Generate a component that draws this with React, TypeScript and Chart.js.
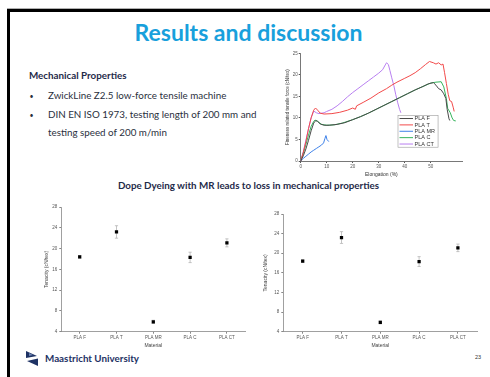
import React, { useEffect, useRef } from "react";
import { Chart, registerables } from "chart.js";
Chart.register(...registerables);

// ---------- Stress-strain curves (Elongation %, force cN/tex) ----------
const curveLabels = ["PLA F", "PLA T", "PLA MR", "PLA C", "PLA CT"];
const curveColors = ["#4a4a4a", "#f24a4a", "#3d80e8", "#35b45c", "#b87ff0"];

const plaF: [number, number][] = [
  [0, 0], [1, 1.2], [2, 2.8], [3, 4.8], [4, 7], [5, 8.8], [5.8, 9.4], [6.5, 9.2], [7.5, 8.6],
  [9, 8.3], [11, 8.3], [14, 8.5], [17, 8.9], [20, 9.6], [23, 10.3], [26, 11.1], [29, 12],
  [32, 12.9], [35, 13.8], [38, 14.7], [41, 15.6], [44, 16.5], [47, 17.3], [49, 17.9],
  [51, 18.2], [52, 17.6], [53, 16.8], [54, 16.5], [55, 15.6], [55.8, 14.5], [56.3, 12],
  [57, 9.8], [57.3, 9.4],
];
const plaT: [number, number][] = [
  [0, 0], [1, 2], [2, 4.5], [3, 7.5], [4, 10], [5, 11.8], [5.7, 12.3], [6.5, 11.8], [7.5, 11.1],
  [9, 10.9], [12, 11], [15, 11.3], [18, 11.8], [20, 12.3], [21, 12], [21.5, 12.8], [24, 13.6],
  [27, 14.6], [30, 15.8], [33, 16.8], [35, 17.6], [37, 18.3], [40, 19.2], [42, 19.8],
  [44, 20.5], [46, 21.4], [48, 22.4], [49.5, 23.1], [51, 22.8], [52, 22.5], [53, 22.8],
  [54, 22.3], [54.7, 22.5], [55.3, 20.5], [56, 18], [56.7, 15.5], [57.3, 14], [58, 13.8],
  [58.6, 12.5], [59, 11.5],
];
const plaMR: [number, number][] = [
  [0, 0], [1, 0.6], [2, 1.1], [3, 1.6], [4, 2.1], [5, 2.5], [6, 2.9], [7, 3.3], [8, 3.7],
  [8.8, 4.2], [9.3, 5.2], [9.7, 5.9], [10.1, 5], [10.8, 4.5],
];
const plaC: [number, number][] = [
  [0, 0], [1, 1.8], [2, 3.8], [3, 6], [4, 8], [5, 9.2], [5.5, 9.5], [6.5, 9.2], [8, 8.5],
  [10, 8.3], [13, 8.4], [16, 8.8], [20, 9.6], [23, 10.3], [26, 11.1], [29, 12], [32, 12.9],
  [35, 13.8], [38, 14.7], [41, 15.6], [44, 16.5], [47, 17.3], [50, 18.1], [52, 18.3],
  [54, 18.4], [55, 17.2], [56, 14.5], [56.5, 12.2], [57.5, 11.2], [58.2, 10], [58.8, 9.4],
  [59.6, 9.3],
];
const plaCT: [number, number][] = [
  [0, 0], [1, 2.2], [2, 4.8], [3, 7.5], [4, 10], [5, 11.6], [6, 11.2], [7, 11], [9, 11.2],
  [10, 11.5], [12, 12], [14, 12.8], [16, 13.8], [18, 14.9], [20, 15.9], [22, 16.8],
  [24, 17.7], [26, 18.6], [28, 19.5], [30, 20.4], [31.5, 21.2], [32.5, 22.3], [33, 22.8],
  [33.7, 22.4], [34.3, 21], [35, 19.3], [35.8, 17.5], [36.5, 15.5], [37.3, 13.5], [38, 12],
  [38.5, 11.2],
];
const curves = [plaF, plaT, plaMR, plaC, plaCT];

// ---------- Tenacity per material ----------
const materials = ["PLA F", "PLA T", "PLA MR", "PLA C", "PLA CT"];
const tenacity = [18.4, 23.2, 5.9, 18.3, 21.1];
const tenacityErr = [0.25, 1.2, 0.3, 1.0, 0.77];

const tickFont = { family: "Liberation Sans, Arial, sans-serif", size: 4.5 };
const titleFont = { family: "Liberation Sans, Arial, sans-serif", size: 5 };

const boxLegend = {
  id: "boxLegend",
  afterDraw(chart: any) {
    const { ctx } = chart;
    const x = chart.scales.x;
    const y = chart.scales.y;
    const left = x.getPixelForValue(37.4);
    const right = x.getPixelForValue(52.8);
    const top = y.getPixelForValue(10.6);
    const bottom = y.getPixelForValue(3.2);
    ctx.save();
    ctx.fillStyle = "#fff";
    ctx.fillRect(left, top, right - left, bottom - top);
    ctx.strokeStyle = "#9a9a9a";
    ctx.lineWidth = 0.6;
    ctx.strokeRect(left, top, right - left, bottom - top);
    const n = chart.data.datasets.length;
    const rowH = (bottom - top) / n;
    chart.data.datasets.forEach((ds: any, i: number) => {
      const cy = top + rowH * (i + 0.5);
      ctx.strokeStyle = ds.borderColor;
      ctx.lineWidth = 1;
      ctx.beginPath();
      ctx.moveTo(left + 1.5, cy);
      ctx.lineTo(left + 15, cy);
      ctx.stroke();
      ctx.fillStyle = "#333";
      ctx.font = "5.5px Liberation Sans, Arial, sans-serif";
      ctx.textBaseline = "middle";
      ctx.fillText(ds.label, left + 16.5, cy + 0.3);
    });
    ctx.restore();
  },
};

const errorBars = {
  id: "errorBars",
  beforeDatasetsDraw(chart: any) {
    const { ctx } = chart;
    const y = chart.scales.y;
    chart.data.datasets.forEach((ds: any, di: number) => {
      const meta = chart.getDatasetMeta(di);
      meta.data.forEach((el: any, i: number) => {
        const v = ds.data[i];
        const e = ds.errors[i];
        const yt = y.getPixelForValue(v + e);
        const yb = y.getPixelForValue(v - e);
        ctx.save();
        ctx.strokeStyle = "#b5b5b5";
        ctx.lineWidth = 0.8;
        ctx.beginPath();
        ctx.moveTo(el.x, yt);
        ctx.lineTo(el.x, yb);
        ctx.moveTo(el.x - 1.6, yt);
        ctx.lineTo(el.x + 1.6, yt);
        ctx.moveTo(el.x - 1.6, yb);
        ctx.lineTo(el.x + 1.6, yb);
        ctx.stroke();
        ctx.restore();
      });
    });
  },
};

function makeCurveChart(canvas: HTMLCanvasElement) {
  return new Chart(canvas, {
    type: "scatter",
    data: {
      datasets: curves.map((c, i) => ({
        label: curveLabels[i],
        data: c.map(([x, y]) => ({ x, y })),
        borderColor: curveColors[i],
        backgroundColor: curveColors[i],
        showLine: true,
        borderWidth: 1,
        pointRadius: 0,
        tension: 0,
      })),
    },
    options: {
      animation: false,
      responsive: false,
      events: [],
      layout: { padding: { left: 4, top: 5.3, right: 9, bottom: 0.7 }, autoPadding: false },
      plugins: { legend: { display: false }, tooltip: { enabled: false } },
      scales: {
        x: {
          type: "linear",
          min: 0,
          max: 62,
          afterBuildTicks: (s: any) => {
            s.ticks = s.ticks.filter((t: any) => t.value % 10 === 0);
          },
          ticks: { stepSize: 10, font: tickFont, color: "#555", padding: 1, maxRotation: 0 },
          grid: { drawOnChartArea: false, tickLength: 2, color: "#555" },
          border: { color: "#555", width: 0.8 },
          title: { display: true, text: "Elongation (%)", font: titleFont, color: "#333", padding: 0 },
          afterFit: (s: any) => {
            s.height = 16.3;
          },
        },
        y: {
          min: 0,
          max: 25,
          ticks: { stepSize: 5, font: tickFont, color: "#555", padding: 1 },
          grid: { drawOnChartArea: false, tickLength: 2, color: "#555" },
          border: { color: "#555", width: 0.8 },
          title: {
            display: true,
            text: "Fineness related tensile force (cN/tex)",
            font: { family: "Liberation Sans, Arial, sans-serif", size: 4.5 },
            color: "#333",
            padding: 0,
          },
          afterFit: (s: any) => {
            s.width = 15.7;
          },
        },
      },
    },
    plugins: [boxLegend],
  } as any);
}

function makeTenacityChart(canvas: HTMLCanvasElement, padLeft: number, padTop: number, padRight: number, yWidth: number) {
  return new Chart(canvas, {
    type: "line",
    data: {
      labels: materials,
      datasets: [
        {
          label: "Tenacity",
          data: tenacity,
          errors: tenacityErr,
          showLine: false,
          pointStyle: "rect",
          pointRadius: 2.3,
          pointBorderWidth: 0,
          pointBackgroundColor: "#000",
          borderColor: "#000",
        } as any,
      ],
    },
    options: {
      animation: false,
      responsive: false,
      events: [],
      layout: { padding: { left: padLeft, top: padTop, right: padRight, bottom: 0 }, autoPadding: false },
      plugins: { legend: { display: false }, tooltip: { enabled: false } },
      scales: {
        x: {
          type: "category",
          offset: true,
          ticks: { font: tickFont, color: "#555", padding: 1, maxRotation: 0, autoSkip: false },
          grid: { drawOnChartArea: false, offset: false, tickLength: 2, color: "#888" },
          border: { color: "#888", width: 0.8 },
          title: { display: true, text: "Material", font: titleFont, color: "#444", padding: 0 },
          afterFit: (s: any) => {
            s.height = 17.3;
          },
        },
        y: {
          min: 4,
          max: 28,
          ticks: { stepSize: 4, font: tickFont, color: "#555", padding: 2 },
          grid: { drawOnChartArea: false, tickLength: 2, color: "#888" },
          border: { color: "#888", width: 0.8 },
          title: { display: true, text: "Tenacity (cN/tex)", font: titleFont, color: "#444", padding: 0 },
          afterFit: (s: any) => {
            s.width = yWidth;
          },
        },
      },
    },
    plugins: [errorBars],
  } as any);
}

const abs = (l: number, t: number, extra: React.CSSProperties = {}): React.CSSProperties => ({
  position: "absolute",
  left: l,
  top: t,
  whiteSpace: "nowrap",
  lineHeight: 1,
  ...extra,
});

export default function App() {
  const c1 = useRef<HTMLCanvasElement>(null);
  const c2 = useRef<HTMLCanvasElement>(null);
  const c3 = useRef<HTMLCanvasElement>(null);

  useEffect(() => {
    const a = makeCurveChart(c1.current!);
    const b = makeTenacityChart(c2.current!, 4, 9, 9.7, 17.3);
    const c = makeTenacityChart(c3.current!, 4, 16, 11.7, 20.3);
    return () => {
      a.destroy();
      b.destroy();
      c.destroy();
    };
  }, []);

  const font = "Lato, 'Open Sans', sans-serif";
  const navy = "#1f2b4a";
  const body = "#2a2f3d";

  return (
    <div
      style={{
        position: "fixed",
        left: 0,
        top: 0,
        width: 490,
        height: 377,
        background: "#fff",
        overflow: "hidden",
        fontFamily: font,
      }}
    >
      {/* frame */}
      <div style={{ position: "absolute", left: 7, top: 7.5, width: 483, height: 1, background: "#b0b0b0" }} />
      <div style={{ position: "absolute", left: 7, top: 8.5, width: 483, height: 3, background: "#000" }} />
      <div style={{ position: "absolute", left: 7, top: 8.5, width: 2.7, height: 369, background: "#000" }} />

      {/* title */}
      <div style={abs(0, 21, { width: 497, textAlign: "center", fontSize: 23, fontWeight: 700, color: "#18a0dc" })}>
        Results and discussion
      </div>

      <div style={abs(29, 71, { fontSize: 9.8, fontWeight: 700, color: navy })}>Mechanical Properties</div>
      <div style={abs(29.5, 92.5, { fontSize: 7, color: body })}>•</div>
      <div style={abs(48, 91, { fontSize: 9.8, color: body })}>ZwickLine Z2.5 low-force tensile machine</div>
      <div style={abs(29.5, 111.5, { fontSize: 7, color: body })}>•</div>
      <div style={abs(48, 110, { fontSize: 9.8, color: body })}>
        DIN EN ISO 1973, testing length of 200 mm and
      </div>
      <div style={abs(48, 127.8, { fontSize: 9.8, color: body })}>testing speed of 200 m/min</div>

      <canvas ref={c1} width={190} height={130} style={{ position: "absolute", left: 281, top: 48, width: 190, height: 130 }} />

      <div style={abs(0, 181, { width: 497, textAlign: "center", fontSize: 9.8, fontWeight: 700, color: navy })}>
        Dope Dyeing with MR leads to loss in mechanical properties
      </div>

      <canvas ref={c2} width={215} height={151} style={{ position: "absolute", left: 40, top: 198, width: 215, height: 151 }} />
      <canvas ref={c3} width={230} height={151} style={{ position: "absolute", left: 259, top: 198, width: 230, height: 151 }} />

      {/* footer */}
      <svg style={{ position: "absolute", left: 26, top: 351 }} width={13} height={15} viewBox="0 0 13 15">
        <polygon points="0,0 11,5 0,7" fill="#1e3264" />
        <polygon points="3,2 7,4 3,5" fill="#6f86b5" />
        <polygon points="12,7.5 1,10 12,15" fill="#1e3264" />
      </svg>
      <div style={abs(45, 354, { fontSize: 9.8, fontWeight: 700, color: "#1e3264" })}>Maastricht University</div>
      <div style={abs(475, 355, { fontSize: 5.5, color: "#333", fontFamily: "Liberation Sans, Arial, sans-serif" })}>23</div>
    </div>
  );
}
